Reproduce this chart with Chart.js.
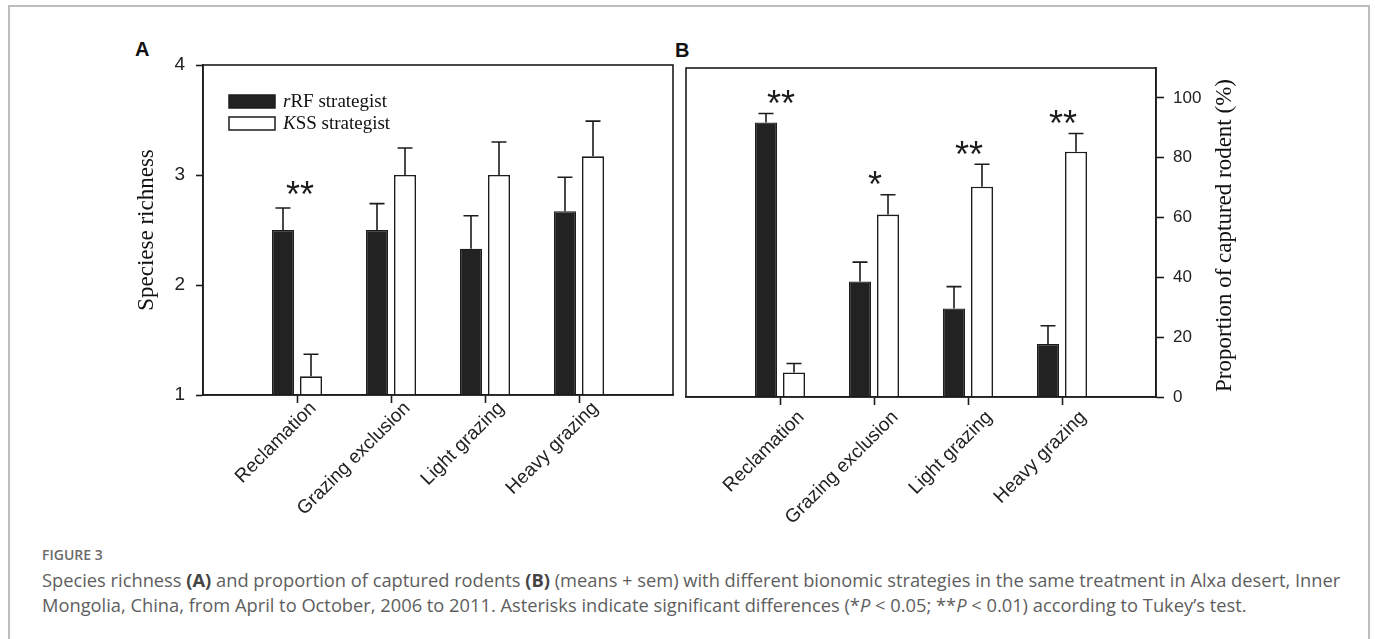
<!DOCTYPE html>
<html>
<head>
<meta charset="utf-8">
<title>Figure 3</title>
<script src="https://cdn.jsdelivr.net/npm/chart.js@4.4.1/dist/chart.umd.min.js"></script>
<style>
  html, body { margin: 0; padding: 0; background: #fff; }
  body { width: 1375px; height: 639px; overflow: hidden; position: relative; font-family: "Liberation Sans", Arial, sans-serif; }
  .frame { position: absolute; left: 8px; top: 5px; width: 1362px; height: 700px; border: 2px solid #bdbdbd; box-sizing: border-box; }
  .wrap { position: absolute; }
  #wrapA { left: 110px; top: 30px; width: 570px; height: 510px; }
  #wrapB { left: 670px; top: 30px; width: 600px; height: 510px; }
  .panel { position: absolute; font: bold 20px "Liberation Sans", Arial, sans-serif; color: #111; line-height: 20px; }
  .figno { position: absolute; left: 42px; top: 548px; font: 600 14px "Open Sans", Lato, sans-serif; color: #6b6b6b; line-height: 14px; }
  .caption { position: absolute; left: 42px; top: 567px; font: 17px "Open Sans", Lato, sans-serif; color: #5e5e5e; line-height: 25px; white-space: nowrap; }
  .caption b { color: #444; }
</style>
</head>
<body>
<div class="frame"></div>
<div class="panel" style="left:135px;top:39px;">A</div>
<div class="panel" style="left:675px;top:40px;">B</div>
<div class="wrap" id="wrapA"><canvas id="chartA"></canvas></div>
<div class="wrap" id="wrapB"><canvas id="chartB"></canvas></div>
<div class="figno">FIGURE 3</div>
<div class="caption" id="caption"><span id="capLine1">Species richness <b>(A)</b> and proportion of captured rodents <b>(B)</b> (means + sem) with different bionomic strategies in the same treatment in Alxa desert, Inner</span><br>Mongolia, China, from April to October, 2006 to 2011. Asterisks indicate significant differences (*<i>P</i> &lt; 0.05; **<i>P</i> &lt; 0.01) according to Tukey’s test.</div>

<script>
// Treatments along the x axis
const categories = ['Reclamation', 'Grazing exclusion', 'Light grazing', 'Heavy grazing'];

// Strategy groups (first letter is set in italics)
const seriesItalic = ['r', 'K'];
const seriesRest = ['RF strategist', 'SS strategist'];

// (A) species richness, means and sem
const richnessRRF = [2.5, 2.5, 2.33, 2.67];
const richnessRRFSem = [0.20, 0.24, 0.30, 0.31];
const richnessKSS = [1.17, 3.0, 3.0, 3.17];
const richnessKSSSem = [0.20, 0.245, 0.30, 0.32];

// (B) proportion of captured rodents (%), means and sem
const proportionRRF = [91.8, 38.6, 29.6, 17.7];
const proportionRRFSem = [3.0, 6.5, 7.3, 6.1];
const proportionKSS = [8.2, 61.0, 70.3, 82.0];
const proportionKSSSem = [3.0, 6.6, 7.5, 6.1];

// Significance marks per treatment
const signifA = ['**', '', '', ''];
const signifB = ['**', '*', '**', '**'];

// Axis ticks
const ticksA = [1, 2, 3, 4];
const ticksB = [0, 20, 40, 60, 80, 100];

const ink = '#1c1c1c';
const barBlack = '#222222';
const serif = '"Liberation Serif", "Times New Roman", serif';
const sans = '"Liberation Sans", Arial, sans-serif';

// caption: size the first line to the full text block width
(function fitCaption() {
  const cap = document.getElementById('caption');
  const line = document.getElementById('capLine1');
  const target = 1299;
  const w = line.getBoundingClientRect().width;
  if (w > 0) cap.style.fontSize = (17 * target / w).toFixed(2) + 'px';
})();

// one empty slot on each side so the treatments sit a full step from the frame
const pad = arr => [null, ...arr, null];
const xLabels = ['', ...categories, ''];

// upward error bars with caps
const errorBars = {
  id: 'errorBars',
  afterDatasetsDraw(chart, args, opts) {
    const ctx = chart.ctx, y = chart.scales.y;
    ctx.save();
    ctx.strokeStyle = ink;
    ctx.lineWidth = 1.6;
    chart.data.datasets.forEach((ds, di) => {
      const meta = chart.getDatasetMeta(di);
      const sem = opts.sem[di];
      meta.data.forEach((bar, i) => {
        const v = ds.data[i];
        if (v == null) return;
        const top = y.getPixelForValue(v + sem[i]);
        const base = y.getPixelForValue(v);
        ctx.beginPath();
        ctx.moveTo(bar.x, base);
        ctx.lineTo(bar.x, top);
        ctx.moveTo(bar.x - 7.5, top);
        ctx.lineTo(bar.x + 7.5, top);
        ctx.stroke();
      });
    });
    ctx.restore();
  }
};

// asterisks above each treatment's highest error bar
const significance = {
  id: 'significance',
  afterDatasetsDraw(chart, args, opts) {
    const ctx = chart.ctx, x = chart.scales.x, y = chart.scales.y;
    const sem = chart.options.plugins.errorBars.sem;
    ctx.save();
    ctx.fillStyle = ink;
    ctx.font = opts.size + 'px ' + sans;
    ctx.textAlign = 'center';
    ctx.textBaseline = 'alphabetic';
    opts.marks.forEach((mark, i) => {
      if (!mark) return;
      let top = Infinity;
      chart.data.datasets.forEach((ds, di) => {
        const v = ds.data[i + 1];
        top = Math.min(top, y.getPixelForValue(v + sem[di][i + 1]));
      });
      const centre = top - opts.gap;
      ctx.fillText(mark, x.getPixelForValue(i + 1) + opts.shift, centre + 0.57 * opts.size);
    });
    ctx.restore();
  }
};

// treatment names, slanted at 45 degrees below each tick
const slantedLabels = {
  id: 'slantedLabels',
  afterDraw(chart, args, opts) {
    const { ctx, chartArea: a } = chart;
    const x = chart.scales.x;
    ctx.save();
    ctx.fillStyle = '#222';
    ctx.font = '19px ' + sans;
    ctx.textAlign = 'right';
    ctx.textBaseline = 'alphabetic';
    categories.forEach((name, i) => {
      const px = x.getPixelForValue(i + 1);
      ctx.save();
      ctx.translate(px + opts.dx, a.bottom + opts.dy);
      ctx.rotate(-Math.PI / 4);
      ctx.fillText(name, 0, 0);
      ctx.restore();
    });
    ctx.restore();
  }
};

// closed frame around the plotting area
const frame = {
  id: 'frame',
  afterDraw(chart) {
    const { ctx, chartArea: a } = chart;
    ctx.save();
    ctx.strokeStyle = ink;
    ctx.lineWidth = 1.6;
    ctx.strokeRect(a.left, a.top, a.right - a.left, a.bottom - a.top);
    ctx.restore();
  }
};

// legend with italic initial letters
const strategyLegend = {
  id: 'strategyLegend',
  afterDraw(chart, args, opts) {
    if (!opts.show) return;
    const { ctx, chartArea: a } = chart;
    ctx.save();
    chart.data.datasets.forEach((ds, i) => {
      const bx = a.left + 26, by = a.top + 30 + i * 22;
      ctx.fillStyle = ds.backgroundColor;
      ctx.fillRect(bx, by, 46, 13);
      ctx.strokeStyle = ink;
      ctx.lineWidth = 1.5;
      ctx.strokeRect(bx, by, 46, 13);
      let tx = a.left + 80;
      const ty = by + 12;
      ctx.fillStyle = '#111';
      ctx.textBaseline = 'alphabetic';
      ctx.font = 'italic 19px ' + serif;
      ctx.fillText(seriesItalic[i], tx, ty);
      tx += ctx.measureText(seriesItalic[i]).width;
      ctx.font = '19px ' + serif;
      ctx.fillText(seriesRest[i], tx, ty);
    });
    ctx.restore();
  }
};

// right-hand axis title, read from bottom to top
const rightTitle = {
  id: 'rightTitle',
  afterDraw(chart, args, opts) {
    if (!opts.text) return;
    const { ctx, chartArea: a } = chart;
    ctx.save();
    ctx.translate(opts.x, (a.top + a.bottom) / 2 + 3);
    ctx.rotate(-Math.PI / 2);
    ctx.fillStyle = '#111';
    ctx.font = '23px ' + serif;
    ctx.textAlign = 'center';
    ctx.textBaseline = 'middle';
    ctx.fillText(opts.text, 0, 0);
    ctx.restore();
  }
};

function xAxis(height) {
  return {
    type: 'category',
    labels: xLabels,
    offset: false,
    grid: {
      offset: false,
      drawOnChartArea: false,
      drawTicks: true,
      tickLength: 8,
      tickWidth: 1.6,
      tickColor: c => (c.index === 0 || c.index === xLabels.length - 1) ? 'rgba(0,0,0,0)' : ink
    },
    border: { display: true, color: ink, width: 1.6 },
    ticks: { display: false, autoSkip: false },
    afterFit: s => { s.height = height; s.paddingLeft = 0; s.paddingRight = 0; }
  };
}

function makeDatasets(a, b) {
  return [
    { label: seriesItalic[0] + seriesRest[0], data: pad(a), backgroundColor: barBlack, borderColor: ink, borderWidth: 1.2 },
    { label: seriesItalic[1] + seriesRest[1], data: pad(b), backgroundColor: '#ffffff', borderColor: ink, borderWidth: 1.6 }
  ];
}

const common = {
  responsive: true,
  maintainAspectRatio: false,
  animation: false,
  devicePixelRatio: 1,
  events: []
};

Chart.register(errorBars, significance, slantedLabels, frame, strategyLegend, rightTitle);

// (A) species richness
new Chart(document.getElementById('chartA'), {
  type: 'bar',
  data: { labels: xLabels, datasets: makeDatasets(richnessRRF, richnessKSS).map(d => Object.assign(d, { base: 1 })) },
  options: Object.assign({}, common, {
    layout: { padding: { top: 35, right: 7, left: 0, bottom: 0 } },
    datasets: { bar: { categoryPercentage: 0.596, barPercentage: 0.786 } },
    scales: {
      x: xAxis(145),
      y: {
        type: 'linear',
        position: 'left',
        min: 1, max: 4,
        afterBuildTicks: s => { s.ticks = ticksA.map(v => ({ value: v })); },
        grid: { drawOnChartArea: false, drawTicks: true, tickLength: 7, tickWidth: 1.6, tickColor: ink },
        border: { display: true, color: ink, width: 1.6 },
        ticks: { padding: 11, color: '#222', font: { family: sans, size: 19 } },
        title: { display: true, text: 'Speciese richness', color: '#111', font: { family: serif, size: 23 }, padding: { top: 23, bottom: 0 } },
        afterFit: s => { s.width = 93; }
      }
    },
    plugins: {
      legend: { display: false },
      tooltip: { enabled: false },
      errorBars: { sem: [pad(richnessRRFSem), pad(richnessKSSSem)] },
      significance: { marks: signifA, size: 36, gap: 22, shift: 3 },
      slantedLabels: { dx: 20, dy: 14 },
      strategyLegend: { show: true },
      rightTitle: { text: '' }
    }
  })
});

// (B) proportion of captured rodents
new Chart(document.getElementById('chartB'), {
  type: 'bar',
  data: { labels: xLabels, datasets: makeDatasets(proportionRRF, proportionKSS) },
  options: Object.assign({}, common, {
    layout: { padding: { top: 38, right: 0, left: 16, bottom: 0 } },
    datasets: { bar: { categoryPercentage: 0.596, barPercentage: 0.786 } },
    scales: {
      x: xAxis(143),
      y: {
        type: 'linear',
        position: 'right',
        min: 0, max: 110,
        afterBuildTicks: s => { s.ticks = ticksB.map(v => ({ value: v })); },
        grid: { drawOnChartArea: false, drawTicks: true, tickLength: 8, tickWidth: 1.6, tickColor: ink },
        border: { display: true, color: ink, width: 1.6 },
        ticks: { padding: 9, color: '#222', font: { family: sans, size: 17 } },
        afterFit: s => { s.width = 114; }
      }
    },
    plugins: {
      legend: { display: false },
      tooltip: { enabled: false },
      errorBars: { sem: [pad(proportionRRFSem), pad(proportionKSSSem)] },
      significance: { marks: signifB, size: 36, gap: 18, shift: 1 },
      slantedLabels: { dx: 25, dy: 21 },
      strategyLegend: { show: false },
      rightTitle: { text: 'Proportion of captured rodent (%)', x: 555 }
    }
  })
});
</script>
</body>
</html>
